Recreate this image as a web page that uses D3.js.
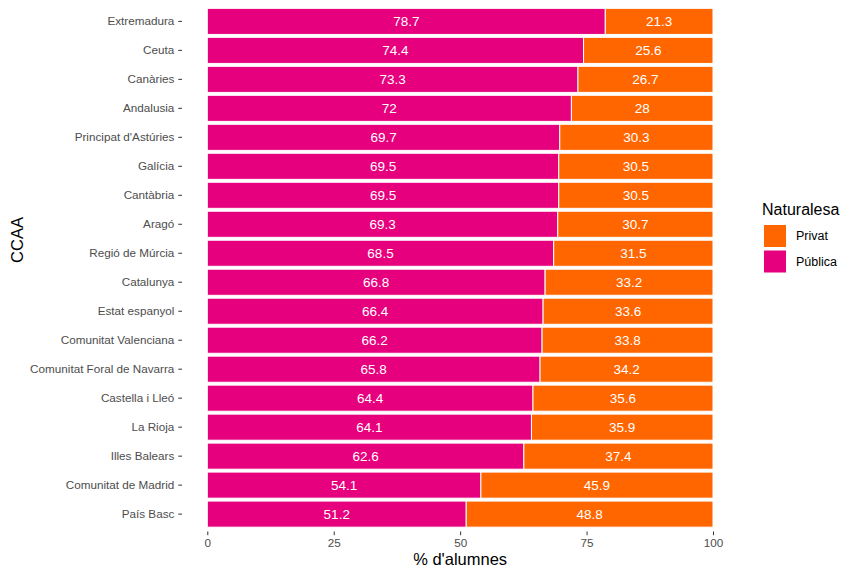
<!DOCTYPE html>
<html><head><meta charset="utf-8">
<script src="https://cdn.jsdelivr.net/npm/d3@7"></script>
<style>body{margin:0;background:#fff;} svg{display:block;}</style>
</head><body>
<svg id="chart" width="842" height="568"></svg>
<script>
const categories = ["Extremadura","Ceuta","Canàries","Andalusia","Principat d'Astúries","Galícia","Cantàbria","Aragó","Regió de Múrcia","Catalunya","Estat espanyol","Comunitat Valenciana","Comunitat Foral de Navarra","Castella i Lleó","La Rioja","Illes Balears","Comunitat de Madrid","País Basc"];
const publica = [78.7,74.4,73.3,72,69.7,69.5,69.5,69.3,68.5,66.8,66.4,66.2,65.8,64.4,64.1,62.6,54.1,51.2];
const privat  = [21.3,25.6,26.7,28,30.3,30.5,30.5,30.7,31.5,33.2,33.6,33.8,34.2,35.6,35.9,37.4,45.9,48.8];
const xTicks = [0,25,50,75,100];
const seriesNames = ["Privat","Pública"];
const colors = {"Privat":"#FF6600","Pública":"#E6007E"};

const svg = d3.select("#chart");
const font = "'Liberation Sans', Arial, sans-serif";
const x = d3.scaleLinear().domain([0,100]).range([207.3,713]);
const panelLeft = x(-5);
const y = d3.scaleBand().domain(categories).range([4,531.5]).paddingInner(0.1).paddingOuter(0.15);

const rows = categories.map((c,i)=>({cat:c, pub:publica[i], pri:privat[i]}));
const g = svg.append("g");
g.selectAll("rect.pub").data(rows).join("rect")
  .attr("x", x(0)).attr("y", d=>y(d.cat))
  .attr("width", d=>x(d.pub)-x(0)).attr("height", y.bandwidth())
  .attr("fill", colors["Pública"]).attr("stroke","#fff").attr("stroke-width",1);
g.selectAll("rect.pri").data(rows).join("rect")
  .attr("x", d=>x(d.pub)).attr("y", d=>y(d.cat))
  .attr("width", d=>x(d.pub+d.pri)-x(d.pub)).attr("height", y.bandwidth())
  .attr("fill", colors["Privat"]).attr("stroke","#fff").attr("stroke-width",1);
g.selectAll("text.pub").data(rows).join("text")
  .attr("x", d=>x(d.pub/2)).attr("y", d=>y(d.cat)+y.bandwidth()/2)
  .attr("dy","0.35em").attr("text-anchor","middle").attr("fill","#fff")
  .style("font-family",font).style("font-size","13.5px").text(d=>d.pub);
g.selectAll("text.pri").data(rows).join("text")
  .attr("x", d=>x(d.pub+d.pri/2)).attr("y", d=>y(d.cat)+y.bandwidth()/2)
  .attr("dy","0.35em").attr("text-anchor","middle").attr("fill","#fff")
  .style("font-family",font).style("font-size","13.5px").text(d=>d.pri);

// y axis
const yAxis = svg.append("g").attr("transform",`translate(${panelLeft},0)`)
  .call(d3.axisLeft(y).tickSize(3.7).tickPadding(4));
yAxis.select(".domain").remove();
yAxis.selectAll("line").attr("stroke","#333");
yAxis.selectAll("text").attr("fill","#4d4d4d").style("font-family",font).style("font-size","11.7px");

// x axis
const xAxis = svg.append("g").attr("transform",`translate(0,531.5)`)
  .call(d3.axisBottom(x).tickValues(xTicks).tickSize(3.7).tickPadding(3));
xAxis.select(".domain").remove();
xAxis.selectAll("line").attr("stroke","#333");
xAxis.selectAll("text").attr("fill","#4d4d4d").style("font-family",font).style("font-size","11.7px");

// axis titles
svg.append("text").attr("x",x(50)).attr("y",565).attr("text-anchor","middle")
  .style("font-family",font).style("font-size","16.5px").attr("fill","#000").text("% d'alumnes");
svg.append("text").attr("transform",`translate(23,240) rotate(-90)`)
  .attr("text-anchor","middle").style("font-family",font).style("font-size","16.5px").attr("fill","#000").text("CCAA");

// legend
const lg = svg.append("g");
lg.append("text").attr("x",762).attr("y",215).style("font-family",font).style("font-size","16px").text("Naturalesa");
seriesNames.forEach((s,i)=>{
  lg.append("rect").attr("x",763.5).attr("y",224.5+i*25.5).attr("width",23).attr("height",23)
    .attr("fill",colors[s]).attr("stroke","#fff").attr("stroke-width",1);
  lg.append("text").attr("x",796).attr("y",236+i*25.5).attr("dy","0.35em")
    .style("font-family",font).style("font-size","12.5px").attr("fill","#000").text(s);
});
</script>
</body></html>
